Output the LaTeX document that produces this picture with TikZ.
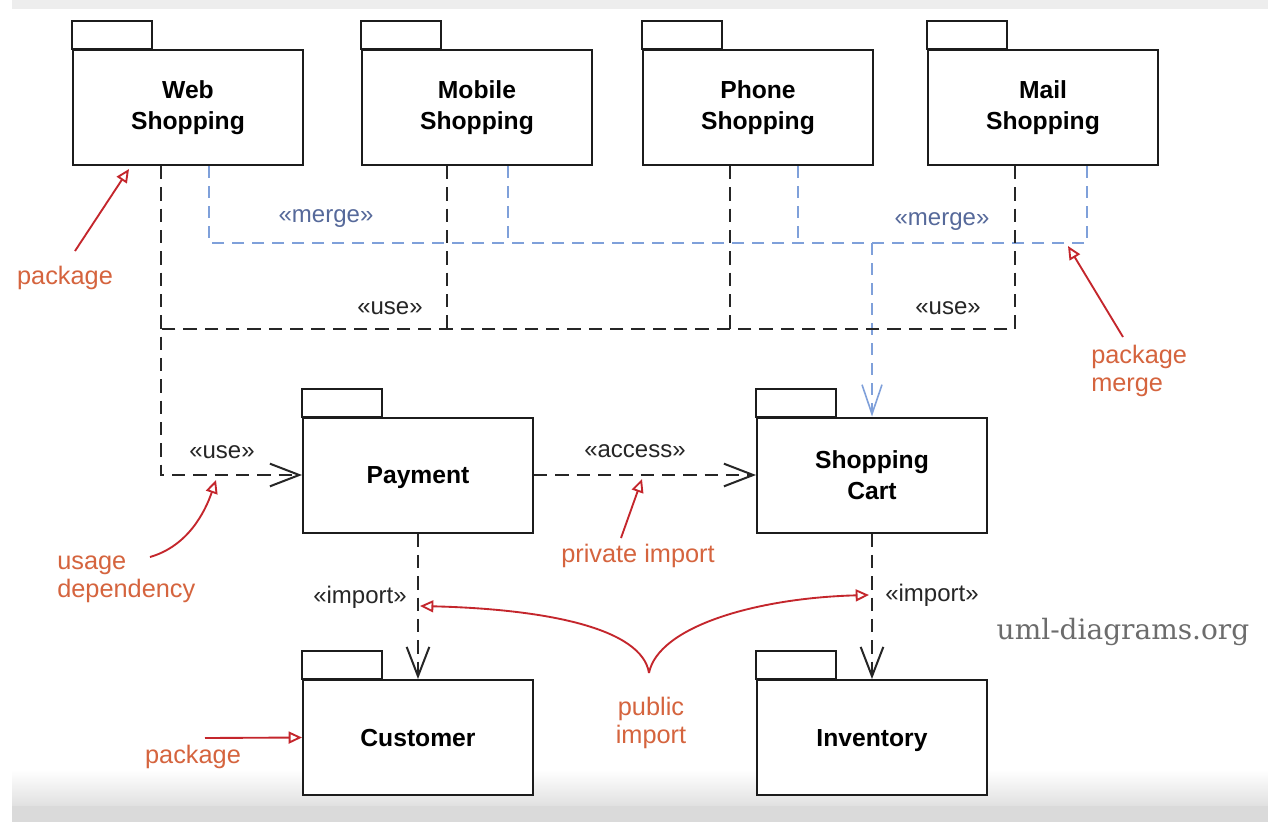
\documentclass[tikz,border=0pt]{standalone}
\usepackage{fontspec}
\setmainfont{Liberation Sans}
\newfontfamily\slabfont{DejaVu Serif}
\usetikzlibrary{arrows.meta,calc}
\definecolor{boxline}{HTML}{1C1C1C}
\definecolor{usecol}{HTML}{262626}
\definecolor{mergecol}{HTML}{7FA0DA}
\definecolor{mergetext}{HTML}{56699A}
\definecolor{noteline}{HTML}{C4262C}
\definecolor{notetext}{HTML}{D5643E}
\definecolor{wmark}{HTML}{6C6C6C}
\definecolor{bandgray}{HTML}{DADADA}
\begin{document}
\begin{tikzpicture}[x=0.75pt,y=-0.75pt,
  pkg/.style={draw=boxline,line width=1.5pt,fill=white,minimum width=172.5pt,
    minimum height=86.25pt,inner sep=0pt,align=center,
    font=\fontsize{18.5}{23}\selectfont\bfseries},
  oneline/.style={text height=13.4pt,text depth=0pt},
  tab/.style={draw=boxline,line width=1.5pt,fill=white},
  usedash/.style={draw=usecol,line width=1.5pt,dash pattern=on 10pt off 6pt},
  usedep/.style={usedash,-{Straight Barb[length=22pt,width=17pt]}},
  mergedash/.style={draw=mergecol,line width=1.2pt,dash pattern=on 9pt off 6pt},
  mergedep/.style={mergedash,-{Straight Barb[length=22pt,width=15pt]}},
  stereo/.style={text=usecol,font=\fontsize{18}{22}\selectfont,inner sep=0pt},
  mstereo/.style={text=mergetext,font=\fontsize{18}{22}\selectfont,inner sep=0pt},
  note/.style={draw=noteline,line width=1.4pt,-{Triangle[open,length=10pt,width=9pt]}},
  notelabel/.style={text=notetext,font=\fontsize{19}{21}\selectfont,inner sep=0pt}]

% page and the soft grey bands at top and bottom
\useasboundingbox (0,0) rectangle (1268,822);
\fill[white] (0,0) rectangle (1268,822);
\fill[black!7] (12,0) rectangle (1268,9);
\shade[top color=white,bottom color=black!12] (12,770) rectangle (1268,806);
\fill[bandgray] (12,806) rectangle (1268,822);

% packages
\node[pkg] (web)  at (188,107.5) {Web\\Shopping};
\node[pkg] (mob)  at (477,107.5) {Mobile\\Shopping};
\node[pkg] (pho)  at (758,107.5) {Phone\\Shopping};
\node[pkg] (mail) at (1043,107.5) {Mail\\Shopping};
\node[pkg,oneline] (pay)  at (418,475) {Payment};
\node[pkg] (cart) at (872,475) {Shopping\\Cart};
\node[pkg,oneline] (cust) at (418,737.5) {Customer};
\node[pkg,oneline] (inv)  at (872,737.5) {Inventory};
\foreach \p in {web,mob,pho,mail,pay,cart,cust,inv}
  \draw[tab] (\p.north west) rectangle ++(80,-28);

% package merges into Shopping Cart
\coordinate (mj) at ($(web.south west)+(137,77)$);
\draw[mergedash] ($(web.south west)+(137,0)$) -- (mj);
\draw[mergedash] ($(mail.south west)+(160,0)$) |- (mj);
\draw[mergedash] ($(mob.south west)+(147,0)$) -- ++(0,77);
\draw[mergedash] ($(pho.south west)+(156,0)$) -- ++(0,77);
\draw[mergedep] (cart.north |- mj) -- (cart.north);
\node[mstereo] (m1) at (326,219) {«merge»};
\node[mstereo] (m2) at (942,222) {«merge»};

% usage dependencies onto Payment
\coordinate (uj) at ($(web.south west)+(89,163)$);
\draw[usedash] ($(mail.south west)+(88,0)$) |- (uj);
\draw[usedash] ($(mob.south west)+(86,0)$) -- ++(0,163);
\draw[usedash] ($(pho.south west)+(88,0)$) -- ++(0,163);
\draw[usedep] ($(web.south west)+(89,0)$) |- (pay.west);
\node[stereo] (u1) at (390,308) {«use»};
\node[stereo] (u2) at (948,308) {«use»};
\node[stereo] (u3) at (222,452) {«use»};

% access and imports
\draw[usedep] (pay.east) -- (cart.west);
\node[stereo] (acc) at (635,451) {«access»};
\draw[usedep] (pay.south) -- (cust.north);
\draw[usedep] (cart.south) -- (inv.north);
\node[stereo] (i1) at (360,597) {«import»};
\node[stereo] (i2) at (932,595) {«import»};

% annotations
\node[notelabel] (n1) at (65,278) {package};
\coordinate (t1) at ($(web.south west)+(57,3)$);
\draw[note] (75,251) -- (t1);

\node[notelabel,align=left,anchor=west] (n2) at (1091,371) {package\\merge};
\coordinate (t2) at (1068,246);
\draw[note] (1123,337) -- (t2);

\node[notelabel,align=left,anchor=west] (n3) at (57,579) {usage\\dependency};
\coordinate (t3) at (216,480);
\draw[note] (150,557) .. controls (188,546) and (205,512) .. (t3);

\node[notelabel] (n4) at (638,556) {private import};
\coordinate (t4) at (642,479);
\draw[note] (621,538) -- (t4);

\node[notelabel,align=center] (n5) at (651,723) {public\\import};
\coordinate (cusp) at (649,673);
\coordinate (t5) at (420,606);
\coordinate (t6) at (869,595);
\draw[note] (cusp) .. controls (642,628) and (545,609) .. (t5);
\draw[note] (cusp) .. controls (658,627) and (755,598) .. (t6);

\node[notelabel] (n6) at (193,757) {package};
\draw[note] (205,738) -- (cust.west);

% watermark
\node[text=wmark,font=\slabfont\fontsize{21}{24}\selectfont,inner sep=0pt] (wm) at (1123,632) {uml-diagrams.org};
\end{tikzpicture}
\end{document}
